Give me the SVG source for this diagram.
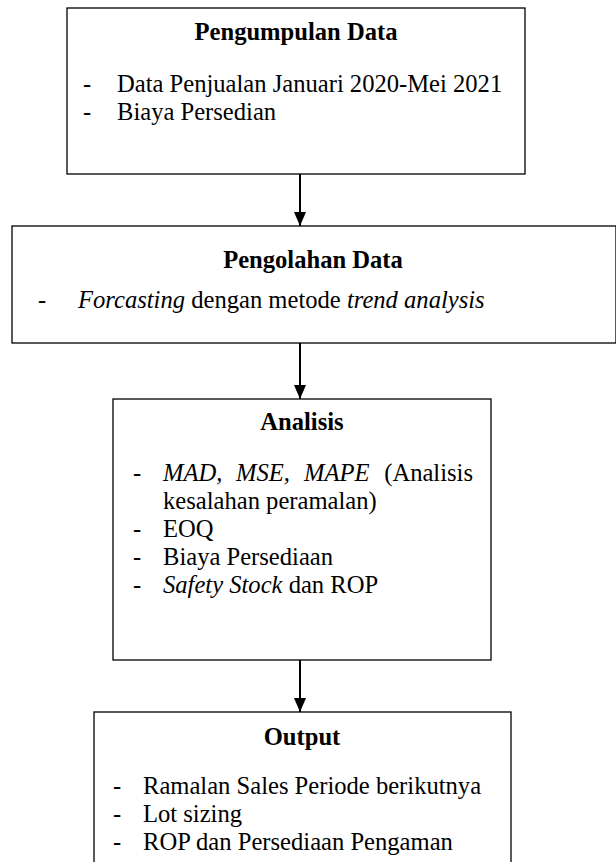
<svg xmlns="http://www.w3.org/2000/svg" width="616" height="862" viewBox="0 0 616 862">
<style>
.box{fill:#fff;stroke:#000;stroke-width:1.3}
text{font-family:"Liberation Serif","Times New Roman",serif;font-size:24.6px;fill:#000}
.t{font-weight:bold;text-anchor:middle}
.i{font-style:italic}
.conn{stroke:#000;stroke-width:2;fill:none}
</style>
<defs>
<marker id="ah" viewBox="0 0 14 12" markerWidth="14" markerHeight="12" refX="14" refY="6" orient="auto" markerUnits="userSpaceOnUse">
<path d="M0,0 L14,6 L0,12 z" fill="#000"/>
</marker>
</defs>
<g id="node-pengumpulan">
<rect class="box" x="67" y="8" width="458" height="166"/>
<text class="t" x="296" y="40">Pengumpulan Data</text>
<text x="83" y="92">-</text><text x="117" y="92">Data Penjualan Januari 2020-Mei 2021</text>
<text x="83" y="120">-</text><text x="117" y="120">Biaya Persedian</text>
</g>
<g id="node-pengolahan">
<rect class="box" x="12" y="226" width="604" height="117"/>
<text class="t" x="313" y="268">Pengolahan Data</text>
<text x="38" y="308">-</text><text x="78" y="308"><tspan class="i">Forcasting</tspan> dengan metode <tspan class="i">trend analysis</tspan></text>
</g>
<g id="node-analisis">
<rect class="box" x="113" y="399" width="378" height="261"/>
<text class="t" x="302" y="430">Analisis</text>
<text x="133" y="481">-</text>
<text class="i" x="163" y="481">MAD,</text>
<text class="i" x="236" y="481">MSE,</text>
<text class="i" x="304" y="481">MAPE</text>
<text x="473" y="481" text-anchor="end">(Analisis</text>
<text x="163" y="509">kesalahan peramalan)</text>
<text x="133" y="537">-</text><text x="163" y="537">EOQ</text>
<text x="133" y="565">-</text><text x="163" y="565">Biaya Persediaan</text>
<text x="133" y="593">-</text><text x="163" y="593"><tspan class="i">Safety Stock</tspan> dan ROP</text>
</g>
<g id="node-output">
<rect class="box" x="94" y="712" width="417" height="160"/>
<text class="t" x="302" y="745">Output</text>
<text x="113" y="794">-</text><text x="143" y="794">Ramalan Sales Periode berikutnya</text>
<text x="113" y="822">-</text><text x="143" y="822">Lot sizing</text>
<text x="113" y="850">-</text><text x="143" y="850">ROP dan Persediaan Pengaman</text>
</g>
<g id="connectors">
<line class="conn" x1="300" y1="174" x2="300" y2="226" marker-end="url(#ah)"/>
<line class="conn" x1="300" y1="343" x2="300" y2="399" marker-end="url(#ah)"/>
<line class="conn" x1="300" y1="660" x2="300" y2="712" marker-end="url(#ah)"/>
</g>
</svg>
